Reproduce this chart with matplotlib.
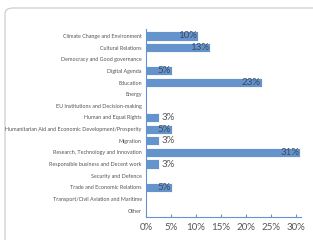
import matplotlib
matplotlib.use("Agg")
import matplotlib.pyplot as plt
from matplotlib.patches import FancyBboxPatch

categories = ["Climate Change and Environment", "Cultural Relations", "Democracy and Good governance",
              "Digital Agenda", "Education", "Energy", "EU Institutions and Decision-making",
              "Human and Equal Rights", "Humanitarian Aid and Economic Development/Prosperity",
              "Migration", "Research, Technology and Innovation", "Responsible business and Decent work",
              "Security and Defence", "Trade and Economic Relations", "Transport/Civil Aviation and Maritime",
              "Other"]
values = [10.3, 12.8, 0, 5.1, 23.1, 0, 0, 2.6, 5.1, 2.6, 30.8, 2.6, 0, 5.1, 0, 0]
labels = ["10%", "13%", "", "5%", "23%", "", "", "3%", "5%", "3%", "31%", "3%", "", "5%", "", ""]
xticks = [0, 5, 10, 15, 20, 25, 30]
xticklabels = ["0%", "5%", "10%", "15%", "20%", "25%", "30%"]

W, H = 313, 240
plt.rcParams['font.family'] = ['Lato', 'DejaVu Sans']
fig = plt.figure(figsize=(W/100, H/100), dpi=100, facecolor="white")

frame = FancyBboxPatch((5/W, -20/H), 330/W, (232+20)/H, boxstyle="round,pad=0,rounding_size=0.025",
                       transform=fig.transFigure, facecolor="none", edgecolor="#c8c8c8",
                       linewidth=0.8, zorder=-5)
fig.patches.append(frame)

ax = fig.add_axes([146/W, 1-217/H, (300.7-146)/W, (217-29)/H])
ax.patch.set_alpha(0)
bar_color = "#6593cc"
y = list(range(len(categories)))
ax.barh(y, values, height=0.78, color=bar_color, edgecolor="white", linewidth=0.6)
for yi, v, lab in zip(y, values, labels):
    if not lab:
        continue
    if v >= 5:
        ax.text(v - 0.2, yi, lab, ha="right", va="center", fontsize=7, color="#3b4a5e")
    else:
        ax.text(v + 0.6, yi, lab, ha="left", va="center", fontsize=7, color="#555555")

ax.set_xlim(0, 30.9)
ax.set_ylim(15.55, -0.6)
ax.set_yticks(y)
ax.set_yticklabels(categories, fontsize=3.9, color="#555555")
ax.set_xticks(xticks)
ax.set_xticklabels(xticklabels, fontsize=7, color="#555555")
ax.tick_params(axis="y", length=0, pad=3)
ax.tick_params(axis="x", length=2, direction="in", color="#6593cc", pad=4)
for s in ["top", "right"]:
    ax.spines[s].set_visible(False)
for s in ["left", "bottom"]:
    ax.spines[s].set_color("#6593cc")
    ax.spines[s].set_linewidth(0.8)

fig.savefig("out.png", dpi=100)
